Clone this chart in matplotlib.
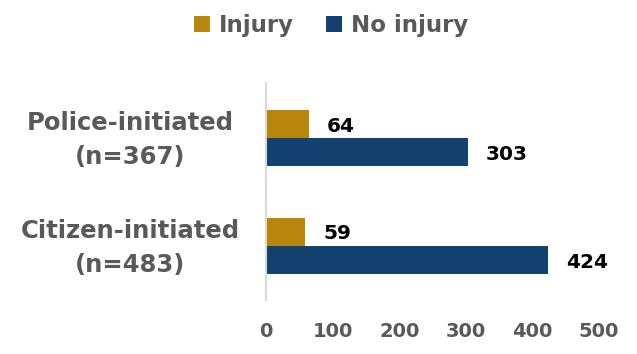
import matplotlib
matplotlib.use("Agg")
import matplotlib.pyplot as plt
import numpy as np

# Injury outcomes by type of encounter
categories = ["Citizen-initiated\n(n=483)", "Police-initiated\n(n=367)"]
injury = [59, 64]
no_injury = [424, 303]
series_names = ["Injury", "No injury"]
x_ticks = [0, 100, 200, 300, 400, 500]

GOLD = "#B8860B"
NAVY = "#134170"
GREY = "#595959"

plt.rcParams["font.family"] = ["DejaVu Sans"]
plt.rcParams["font.weight"] = "bold"

fig = plt.figure(figsize=(6.37, 3.54), dpi=100)
ax = fig.add_axes([0.4176, 0.1525, 0.5228, 0.613])

y = np.arange(len(categories))
h = 0.26
b1 = ax.barh(y + h / 2, injury, height=h, color=GOLD, label=series_names[0])
b2 = ax.barh(y - h / 2, no_injury, height=h, color=NAVY, label=series_names[1])

# value labels just past the end of each bar
for bars in (b1, b2):
    for rect in bars:
        w = rect.get_width()
        ax.annotate(f"{w:.0f}", xy=(w, rect.get_y() + rect.get_height() / 2),
                    xytext=(18, -2), textcoords="offset pixels",
                    ha="left", va="center", fontsize=14.5, fontweight="bold",
                    color="black")

ax.set_xlim(0, 500)
ax.set_ylim(-0.5, 1.51)
ax.set_xticks(x_ticks)
ax.set_xticklabels([str(t) for t in x_ticks], fontsize=14, fontweight="bold", color=GREY)
ax.tick_params(axis="x", length=0, pad=16)
ax.set_yticks([])

for s in ["top", "right", "bottom"]:
    ax.spines[s].set_visible(False)
ax.spines["left"].set_color("#D9D9D9")
ax.spines["left"].set_linewidth(1.5)

# category labels, centred, to the left of the axis
for yi, lab in zip(y, categories):
    ax.annotate(lab, xy=(0, yi), xycoords=("axes fraction", "data"),
                xytext=(-136, -2), textcoords="offset pixels",
                ha="center", va="center", fontsize=17.5, fontweight="bold",
                color=GREY, linespacing=1.5)

fig.legend(handles=[b1, b2], labels=series_names, loc="upper center",
           bbox_to_anchor=(0.52, 1.02), ncol=2, frameon=False,
           prop={"size": 16.5, "weight": "bold"}, labelcolor=GREY,
           handlelength=0.7, handleheight=0.7, handletextpad=0.4,
           columnspacing=1.4)

fig.savefig("out.png", dpi=100)
